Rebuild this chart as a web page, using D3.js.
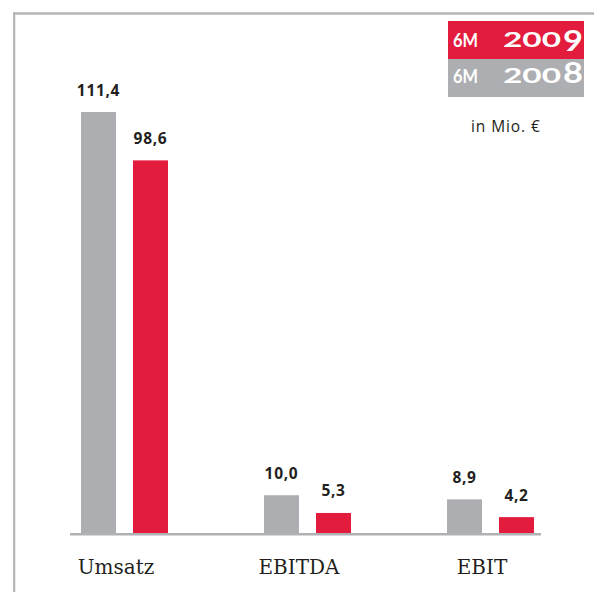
<!DOCTYPE html>
<html>
<head>
<meta charset="utf-8">
<script src="https://cdn.jsdelivr.net/npm/d3@7"></script>
<style>
  html, body { margin: 0; padding: 0; background: #fff; }
  svg { display: block; }
</style>
</head>
<body>
<svg id="chart" width="594" height="592"></svg>
<script>
// ---- data ----
const categories = ["Umsatz", "EBITDA", "EBIT"];
const seriesNames = ["6M 2008", "6M 2009"];
const values2008 = [111.4, 10.0, 8.9];
const values2009 = [98.6, 5.3, 4.2];
const valueLabels2008 = ["111,4", "10,0", "8,9"];
const valueLabels2009 = ["98,6", "5,3", "4,2"];
const unitLabel = "in Mio. €";

const colors = { "6M 2008": "#adaeb1", "6M 2009": "#e31b3c" };
const frameColor = "#b4b5b7";

const svg = d3.select("#chart");

// frame (top and left rules)
svg.append("line").attr("x1", 13).attr("x2", 594).attr("y1", 13.5).attr("y2", 13.5)
  .attr("stroke", frameColor).attr("stroke-width", 2.5);
svg.append("line").attr("x1", 14.2).attr("x2", 14.2).attr("y1", 12.3).attr("y2", 592)
  .attr("stroke", frameColor).attr("stroke-width", 2.2);

// scales
const x0 = d3.scaleBand().domain(categories).range([81, 534])
  .paddingInner(1 - 87 / 183).paddingOuter(0).align(0);
const x1 = d3.scaleBand().domain(seriesNames).range([0, x0.bandwidth()])
  .paddingInner(17 / 52).paddingOuter(0);
const y = d3.scaleLinear().domain([0, 120]).range([533, 533 - 120 * 3.779]);

const rows = categories.map((c, i) => ({
  cat: c,
  bars: [
    { s: seriesNames[0], v: values2008[i], lab: valueLabels2008[i] },
    { s: seriesNames[1], v: values2009[i], lab: valueLabels2009[i] }
  ]
}));

const g = svg.selectAll("g.grp").data(rows).join("g")
  .attr("class", "grp")
  .attr("transform", d => `translate(${x0(d.cat)},0)`);

g.selectAll("rect").data(d => d.bars).join("rect")
  .attr("x", d => x1(d.s))
  .attr("width", x1.bandwidth())
  .attr("y", d => y(d.v))
  .attr("height", d => y(0) - y(d.v))
  .attr("fill", d => colors[d.s]);

g.selectAll("text.val").data(d => d.bars).join("text")
  .attr("class", "val")
  .attr("x", d => x1(d.s) + x1.bandwidth() / 2)
  .attr("y", d => y(d.v) - 16.5)
  .attr("text-anchor", "middle")
  .attr("font-family", "'Open Sans', sans-serif")
  .attr("font-weight", 700)
  .attr("font-size", 15.5)
  .attr("letter-spacing", 0.7)
  .attr("fill", "#231f20")
  .text(d => d.lab);

// baseline axis
const axis = d3.axisBottom(x0).tickSize(0).tickFormat("").tickSizeOuter(0);
const ax = svg.append("g").attr("transform", `translate(0,${y(0) + 1.3})`).call(axis);
ax.select(".domain").attr("d", `M70,0H541`).attr("stroke", "#b0b1b4").attr("stroke-width", 2.6);

// category labels
svg.selectAll("text.cat").data(categories).join("text")
  .attr("class", "cat")
  .attr("x", d => x0(d) + x1.bandwidth() / 2 + 17.5)
  .attr("y", 573.5)
  .attr("text-anchor", "middle")
  .attr("font-family", "'DejaVu Serif', serif")
  .attr("font-size", 20)
  .attr("fill", "#231f20")
  .text(d => d);

// legend
const legend = [
  { name: seriesNames[1], top: 21, h: 38, base: 47, lastDy: 4 },
  { name: seriesNames[0], top: 59, h: 38, base: 83, lastDy: 0 }
];
const lg = svg.selectAll("g.leg").data(legend).join("g").attr("class", "leg");
lg.append("rect").attr("x", 448).attr("width", 136)
  .attr("y", d => d.top).attr("height", d => d.h)
  .attr("fill", d => colors[d.name]);
lg.append("text")
  .attr("x", 453).attr("y", d => d.base)
  .attr("font-family", "Lato, 'Open Sans', sans-serif").attr("font-weight", 700)
  .attr("font-size", 19).attr("fill", "#fff")
  .attr("textLength", 25).attr("lengthAdjust", "spacingAndGlyphs")
  .text(d => d.name.split(" ")[0]);
// year drawn in the old-style figure look: low "200", taller final digit
lg.append("text")
  .attr("x", 503).attr("y", d => d.base)
  .attr("font-family", "Lato, 'Open Sans', sans-serif").attr("font-weight", 700)
  .attr("font-size", 21).attr("fill", "#fff")
  .attr("textLength", 58).attr("lengthAdjust", "spacingAndGlyphs")
  .text(d => d.name.split(" ")[1].slice(0, 3));
lg.append("text")
  .attr("x", 563).attr("y", d => d.base + d.lastDy)
  .attr("font-family", "Lato, 'Open Sans', sans-serif").attr("font-weight", 700)
  .attr("font-size", 28).attr("fill", "#fff")
  .attr("textLength", 20).attr("lengthAdjust", "spacingAndGlyphs")
  .text(d => d.name.slice(-1));

// unit label
svg.append("text")
  .attr("x", 471).attr("y", 132)
  .attr("font-family", "'Open Sans', sans-serif")
  .attr("font-size", 15.5).attr("letter-spacing", 0.9).attr("fill", "#231f20")
  .text(unitLabel);
</script>
</body>
</html>
